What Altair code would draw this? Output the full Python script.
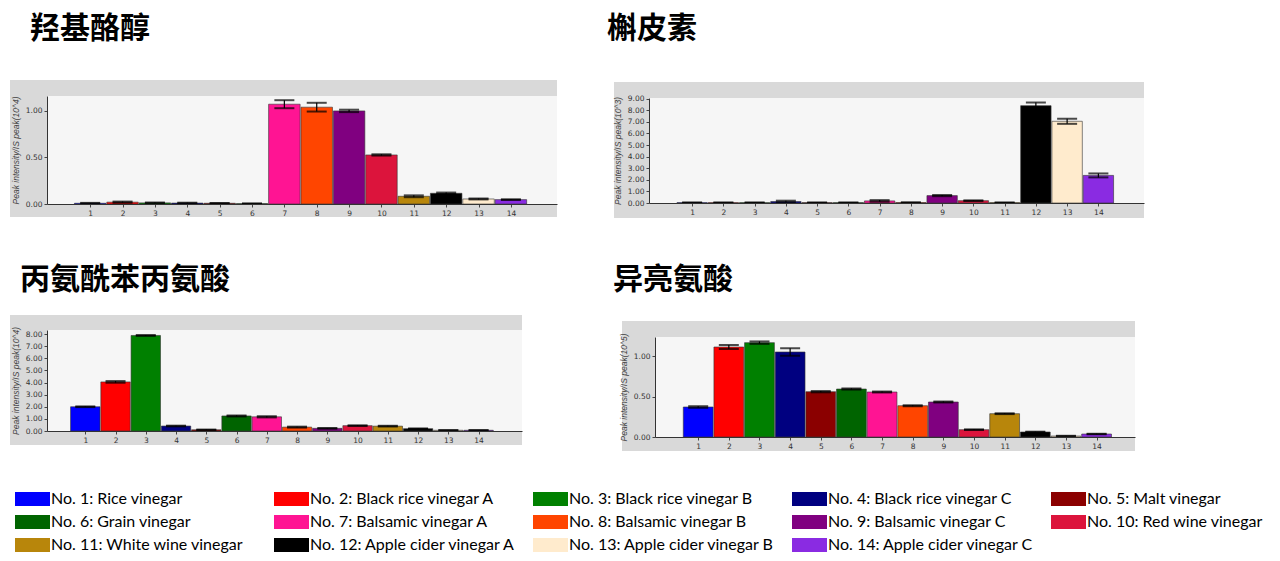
import altair as alt
import pandas as pd

nos = list(range(1, 15))
names = ["No. 1: Rice vinegar", "No. 2: Black rice vinegar A", "No. 3: Black rice vinegar B",
         "No. 4: Black rice vinegar C", "No. 5: Malt vinegar", "No. 6: Grain vinegar",
         "No. 7: Balsamic vinegar A", "No. 8: Balsamic vinegar B", "No. 9: Balsamic vinegar C",
         "No. 10: Red wine vinegar", "No. 11: White wine vinegar", "No. 12: Apple cider vinegar A",
         "No. 13: Apple cider vinegar B", "No. 14: Apple cider vinegar C"]
colors = ["#0000FF", "#FF0000", "#008000", "#000080", "#8B0000", "#006400", "#FF1493",
          "#FF4500", "#800080", "#DC143C", "#B8860B", "#000000", "#FFEBCD", "#8A2BE2"]

titles = ["羟基酪醇", "槲皮素", "丙氨酰苯丙氨酸", "异亮氨酸"]
ytitles = ["Peak intensity/IS peak(10^4)", "Peak intensity/IS peak(10^3)",
           "Peak intensity/IS peak(10^4)", "Peak intensity/IS peak(10^5)"]

p1_mean = [0.008, 0.02, 0.012, 0.01, 0.008, 0.004, 1.072, 1.04, 1.0, 0.527, 0.083, 0.115, 0.054, 0.047]
p1_sd = [0.004, 0.006, 0.004, 0.004, 0.003, 0.002, 0.043, 0.047, 0.013, 0.007, 0.01, 0.008, 0.005, 0.004]
p1_ticks = [0, 0.5, 1.0]

p2_mean = [0.03, 0.03, 0.03, 0.12, 0.03, 0.03, 0.18, 0.04, 0.64, 0.2, 0.03, 8.4, 7.05, 2.38]
p2_sd = [0.01, 0.01, 0.01, 0.08, 0.01, 0.01, 0.07, 0.01, 0.05, 0.03, 0.01, 0.27, 0.22, 0.17]
p2_ticks = [0, 1, 2, 3, 4, 5, 6, 7, 8, 9]

p3_mean = [2.0, 4.05, 7.88, 0.41, 0.1, 1.24, 1.17, 0.32, 0.22, 0.44, 0.4, 0.19, 0.06, 0.06]
p3_sd = [0.03, 0.07, 0.04, 0.03, 0.02, 0.04, 0.05, 0.04, 0.03, 0.03, 0.03, 0.02, 0.01, 0.01]
p3_ticks = [0, 1, 2, 3, 4, 5, 6, 7, 8]

p4_mean = [0.372, 1.116, 1.17, 1.054, 0.562, 0.595, 0.558, 0.388, 0.434, 0.091, 0.289, 0.062, 0.012, 0.037]
p4_sd = [0.01, 0.025, 0.015, 0.045, 0.008, 0.007, 0.006, 0.006, 0.006, 0.004, 0.005, 0.004, 0.003, 0.003]
p4_ticks = [0, 0.5, 1.0]

legend = alt.Legend(
    orient="none", legendX=-32, legendY=395, columns=5, direction="horizontal", title=None,
    symbolType="M-1,-0.4L1,-0.4L1,0.4L-1,0.4Z", symbolSize=1225, symbolStrokeWidth=0,
    symbolOpacity=1, labelFont="Lato", labelFontSize=16, labelColor="black", labelLimit=400,
    labelOffset=1, gridAlign="all", columnPadding=17, rowPadding=7, clipHeight=16,
)


def panel(title, ytitle, mean, sd, yticks, W, H, top, L, T, B, ydom, xdom, tdx, toff, tdy=0):
    df = pd.DataFrame({"no": nos, "name": names, "mean": mean, "sd": sd})
    df["lo"] = df["mean"] - df["sd"]
    df["hi"] = df["mean"] + df["sd"]
    step = W / (xdom[1] - xdom[0])
    Ht = H + top
    one = pd.DataFrame({"k": [0]})
    frame = alt.Chart(one).mark_rect(color="#d9d9d9").encode(
        x=alt.value(-L), x2=alt.value(W), y=alt.value(top - T), y2=alt.value(Ht + B))
    inner = alt.Chart(one).mark_rect(color="#f6f6f6").encode(
        x=alt.value(0), x2=alt.value(W), y=alt.value(top), y2=alt.value(Ht))
    xscale = alt.Scale(domain=xdom, nice=False, zero=False)
    yscale = alt.Scale(domain=ydom, nice=False, zero=True, range=[Ht, top])
    xaxis = alt.Axis(values=nos, format="d", title=None, grid=False, labelFont="DejaVu Sans",
                     labelFontSize=7.5, labelColor="#333", tickColor="#444", tickSize=3,
                     domainColor="#333", labelPadding=2, labelFlush=False, labelOverlap=False, zindex=1)
    yaxis = alt.Axis(values=yticks, format=".2f", title=ytitle, grid=False, labelFont="DejaVu Sans",
                     labelFontSize=7.5, labelColor="#333", tickColor="#444", tickSize=3,
                     domainColor="#333", labelPadding=2, titleFont="Liberation Sans",
                     titleFontStyle="italic", titleFontWeight="normal", titleFontSize=8.5,
                     titleColor="#444", titlePadding=5, labelOverlap=False, zindex=1)
    xenc = alt.X("no:Q", scale=xscale, axis=xaxis)
    bars = alt.Chart(df).mark_bar(width=step - 1.5, stroke="#333", strokeWidth=0.6).encode(
        x=xenc,
        y=alt.Y("mean:Q", scale=yscale, axis=yaxis),
        color=alt.Color("name:N", scale=alt.Scale(domain=names, range=colors), legend=legend),
    )
    rule = alt.Chart(df).mark_rule(color="black", strokeWidth=1.2).encode(
        x=xenc, y=alt.Y("lo:Q", scale=yscale, axis=yaxis), y2="hi:Q")
    cap_hi = alt.Chart(df).mark_tick(color="black", orient="horizontal", size=20, thickness=2).encode(
        x=xenc, y=alt.Y("hi:Q", scale=yscale, axis=yaxis))
    cap_lo = alt.Chart(df).mark_tick(color="black", orient="horizontal", size=20, thickness=2).encode(
        x=xenc, y=alt.Y("lo:Q", scale=yscale, axis=yaxis))
    return alt.layer(frame, inner, bars, rule, cap_hi, cap_lo).properties(
        width=W, height=Ht,
        title=alt.TitleParams(text=title, anchor="start", frame="group", dx=tdx, dy=tdy, offset=toff,
                              fontSize=30, font="Noto Sans CJK SC", fontWeight="bold",
                              color="black", baseline="alphabetic"),
    )


c1 = panel(titles[0], ytitles[0], p1_mean, p1_sd, p1_ticks, 510, 108, 0, 37, 16, 13, [0, 1.16], [-0.18, 15.27], -17, 12)
c2 = panel(titles[1], ytitles[1], p2_mean, p2_sd, p2_ticks, 495, 105, 2, 35, 16, 15, [0, 9.06], [-0.22, 15.30], -42, 14)
c3 = panel(titles[2], ytitles[2], p3_mean, p3_sd, p3_ticks, 475, 101, 0, 37, 15, 14, [0, 8.33], [-0.10, 15.27], -27, 0, 4)
c4 = panel(titles[3], ytitles[3], p4_mean, p4_sd, p4_ticks, 480, 100, 7, 33, 16, 14, [0, 1.24], [-0.246, 15.09], -42, 2)

row1 = alt.hconcat(c1, c2, spacing=50)
row2 = alt.hconcat(c3, c4, spacing=91)
chart = alt.vconcat(row1, row2, spacing=47).properties(
    padding={"left": 2, "top": 6, "right": 0, "bottom": 0}
).configure_view(stroke=None)

chart.save("out.html", embed_options={"renderer": "svg", "actions": False})
